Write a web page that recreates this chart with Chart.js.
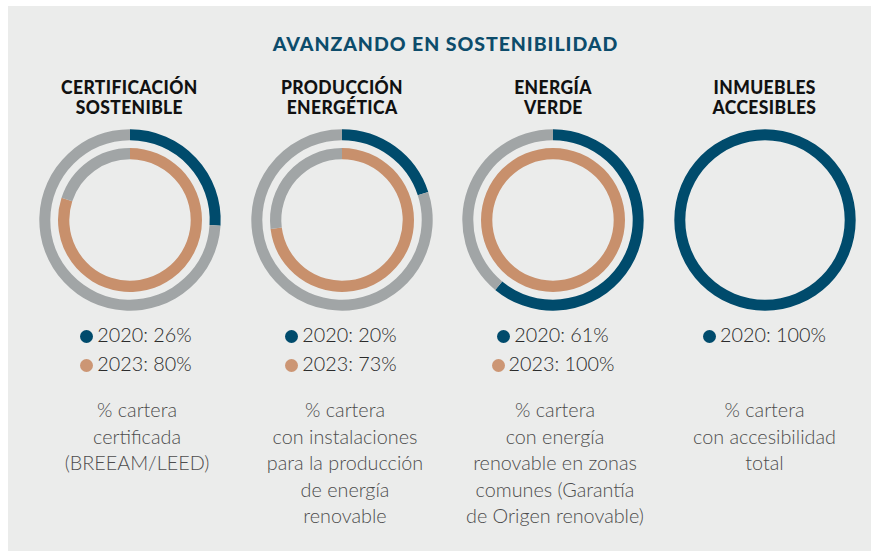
<!DOCTYPE html>
<html>
<head>
<meta charset="utf-8">
<script src="https://cdn.jsdelivr.net/npm/chart.js@4/dist/chart.umd.min.js"></script>
<style>
  html, body { margin: 0; padding: 0; background: #ffffff; }
  #stage { position: relative; width: 871px; height: 551px; overflow: hidden; background: #ffffff; }
  #panel { position: absolute; left: 8px; top: 6px; right: 0; bottom: 0; background: #ebeceb; }
  .abs { position: absolute; white-space: nowrap; }
  #title { left: 0; width: 891px; top: 31px; text-align: center; font-family: Lato, sans-serif; font-weight: 900; font-size: 19.5px; color: #0d4c6b; letter-spacing: 0.95px; line-height: 26px; }
  .head { width: 240px; text-align: center; font-family: Lato, sans-serif; font-weight: 900; font-size: 18px; line-height: 19.5px; color: #111; }
  .head span { display: inline-block; transform: scaleX(0.97); transform-origin: center; letter-spacing: 0.4px; }
  .leg { font-family: Lato, sans-serif; font-weight: 300; font-size: 19.8px; color: #2a2a2a; line-height: 28.5px; width: 240px; text-align: center; }
  .leg .row { display: block; }
  .dot { display: inline-block; width: 13px; height: 13px; border-radius: 50%; vertical-align: -1px; margin-right: 4px; }
  .desc { font-family: Lato, sans-serif; font-weight: 300; font-size: 19.8px; color: #4d4d4d; line-height: 26.5px; width: 240px; text-align: center; }
  canvas { position: absolute; }
</style>
</head>
<body>
<div id="stage"><div id="panel"></div></div>
<script>
// ---------- data ----------
const chartTitle = 'AVANZANDO EN SOSTENIBILIDAD';
const categories = ['CERTIFICACIÓN SOSTENIBLE', 'PRODUCCIÓN ENERGÉTICA', 'ENERGÍA VERDE', 'INMUEBLES ACCESIBLES'];
const headingLines = [
  ['CERTIFICACIÓN', 'SOSTENIBLE'],
  ['PRODUCCIÓN', 'ENERGÉTICA'],
  ['ENERGÍA', 'VERDE'],
  ['INMUEBLES', 'ACCESIBLES']
];
const seriesYears = ['2020', '2023'];
const values2020 = [26, 20, 61, 100];
const values2023 = [80, 73, 100, null];
const descriptions = [
  ['% cartera', 'certificada', '(BREEAM/LEED)'],
  ['% cartera', 'con instalaciones', 'para la producción', 'de energía', 'renovable'],
  ['% cartera', 'con energía', 'renovable en zonas', 'comunes (Garantía', 'de Origen renovable)'],
  ['% cartera', 'con accesibilidad', 'total']
];

// ---------- styles / layout ----------
const COLORS = { y2020: '#004b6c', y2023: '#c8906c', rest: '#a1a5a6', dot2023: '#cc9674' };
const donutCX = [129.5, 341.7, 553, 764.5];
const donutCY = 219.8;
const legendCX = [136, 341, 553, 764.5];
const descCX = [137, 345, 555, 764.5];
const R_OUT = 90.7, W_OUT = 11, GAP = 7.7, W_IN = 11.3;
const CANVAS = 200;

const stage = document.getElementById('stage');

function addDiv(cls, id, left, top, html) {
  const d = document.createElement('div');
  d.className = 'abs ' + cls;
  if (id) d.id = id;
  if (left !== null) d.style.left = left + 'px';
  d.style.top = top + 'px';
  d.innerHTML = html;
  stage.appendChild(d);
  return d;
}

addDiv('', 'title', null, 31, chartTitle);

categories.forEach((cat, i) => {
  // heading
  addDiv('head', null, donutCX[i] - 120, 78,
    headingLines[i].map(l => '<span>' + l + '</span>').join('<br>'));

  // legend rows
  const rows = [];
  rows.push('<span class="row"><span class="dot" style="background:' + COLORS.y2020 + '"></span>' + seriesYears[0] + ': ' + values2020[i] + '%</span>');
  if (values2023[i] !== null) {
    rows.push('<span class="row"><span class="dot" style="background:' + COLORS.dot2023 + '"></span>' + seriesYears[1] + ': ' + values2023[i] + '%</span>');
  }
  addDiv('leg', null, legendCX[i] - 120, 320, rows.join(''));

  // description
  addDiv('desc', null, descCX[i] - 120, 396, descriptions[i].join('<br>'));

  // donut
  const cv = document.createElement('canvas');
  cv.width = CANVAS; cv.height = CANVAS;
  cv.style.width = CANVAS + 'px'; cv.style.height = CANVAS + 'px';
  cv.style.left = (donutCX[i] - CANVAS / 2) + 'px';
  cv.style.top = (donutCY - CANVAS / 2) + 'px';
  stage.appendChild(cv);

  const datasets = [{
    label: seriesYears[0],
    data: [values2020[i], 100 - values2020[i]],
    backgroundColor: [COLORS.y2020, COLORS.rest],
    borderWidth: 0,
    weight: W_OUT
  }];
  let cutout;
  if (values2023[i] !== null) {
    datasets.push({ label: 'gap', data: [100], backgroundColor: ['rgba(0,0,0,0)'], borderWidth: 0, weight: GAP });
    datasets.push({
      label: seriesYears[1],
      data: [values2023[i], 100 - values2023[i]],
      backgroundColor: [COLORS.y2023, COLORS.rest],
      borderWidth: 0,
      weight: W_IN
    });
    cutout = ((R_OUT - W_OUT - GAP - W_IN) / R_OUT * 100) + '%';
  } else {
    cutout = ((R_OUT - W_OUT) / R_OUT * 100) + '%';
  }
  new Chart(cv, {
    type: 'doughnut',
    data: { labels: [seriesYears[0], 'resto'], datasets },
    options: {
      responsive: false,
      animation: false,
      cutout,
      layout: { padding: CANVAS / 2 - R_OUT },
      plugins: { legend: { display: false }, tooltip: { enabled: false } },
      events: []
    }
  });
});
</script>
</body>
</html>
